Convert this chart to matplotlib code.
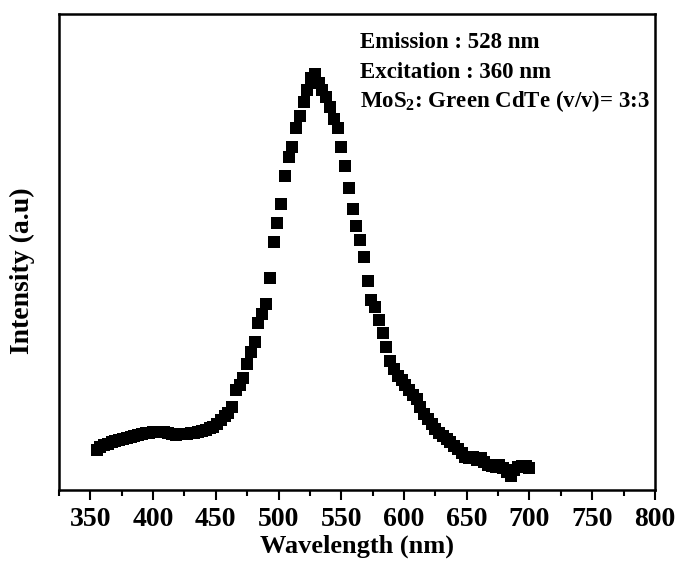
import numpy as np
import matplotlib.pyplot as plt
from matplotlib.ticker import MultipleLocator

plt.rcParams['font.family'] = ['Liberation Serif', 'DejaVu Serif']
plt.rcParams['font.weight'] = 'bold'
plt.rcParams['mathtext.fontset'] = 'custom'
plt.rcParams['mathtext.rm'] = 'Liberation Serif:bold'

# PL spectrum, 3 nm steps
wavelength = np.arange(355, 701, 3)
intensity = [
    0.084, 0.090, 0.094, 0.097, 0.100, 0.103, 0.105, 0.107, 0.109, 0.111,
    0.113, 0.115, 0.117, 0.119, 0.120, 0.121, 0.122, 0.122, 0.121, 0.119,
    0.117, 0.116, 0.117, 0.117, 0.118, 0.119, 0.120, 0.122, 0.124, 0.126,
    0.129, 0.132, 0.138, 0.147, 0.155, 0.162, 0.175, 0.210, 0.220, 0.235,
    0.265, 0.290, 0.310, 0.350, 0.370, 0.390, 0.445, 0.520, 0.560, 0.600,
    0.660, 0.700, 0.720, 0.760, 0.785, 0.815, 0.840, 0.865, 0.875, 0.855,
    0.840, 0.825, 0.805, 0.780, 0.760, 0.720, 0.680, 0.635, 0.590, 0.555,
    0.525, 0.490, 0.440, 0.400, 0.385, 0.357, 0.330, 0.300, 0.270, 0.255,
    0.240, 0.230, 0.220, 0.210, 0.200, 0.190, 0.175, 0.160, 0.148, 0.138,
    0.128, 0.120, 0.113, 0.107, 0.100, 0.093, 0.085, 0.078, 0.070, 0.066,
    0.070, 0.063, 0.066, 0.058, 0.052, 0.050, 0.048, 0.052, 0.046, 0.038,
    0.030, 0.042, 0.048, 0.050, 0.050, 0.045,
]

fig = plt.figure(figsize=(6.78, 5.65), dpi=100)
ax = fig.add_axes([0.087, 0.133, 0.879, 0.842])

ax.plot(wavelength, intensity, 's', color='black', ms=8, mew=0)

ax.set_xlim(325, 800)
ax.set_ylim(0, 1)
ax.xaxis.set_major_locator(MultipleLocator(50))
ax.xaxis.set_minor_locator(MultipleLocator(25))
ax.set_yticks([])
ax.tick_params(axis='x', which='major', direction='out', length=7, width=1.5,
               labelsize=20, pad=5)
ax.tick_params(axis='x', which='minor', direction='out', length=4, width=1.5)
for s in ax.spines.values():
    s.set_linewidth(1.8)

ax.set_xlabel('Wavelength (nm)', fontsize=19, fontweight='bold', labelpad=2)
ax.set_ylabel('Intensity (a.u)', fontsize=20, fontweight='bold')
ax.yaxis.set_label_coords(-0.04, 0.46)

ax.text(565, 0.94, 'Emission : 528 nm', fontsize=16.5, fontweight='bold', va='center')
ax.text(565, 0.878, 'Excitation : 360 nm', fontsize=16.5, fontweight='bold', va='center')
ax.text(565, 0.818, r'MoS$_2$: Green CdTe (v/v)= 3:3', fontsize=16.5,
        fontweight='bold', va='center')

fig.savefig('out.png', dpi=100)
